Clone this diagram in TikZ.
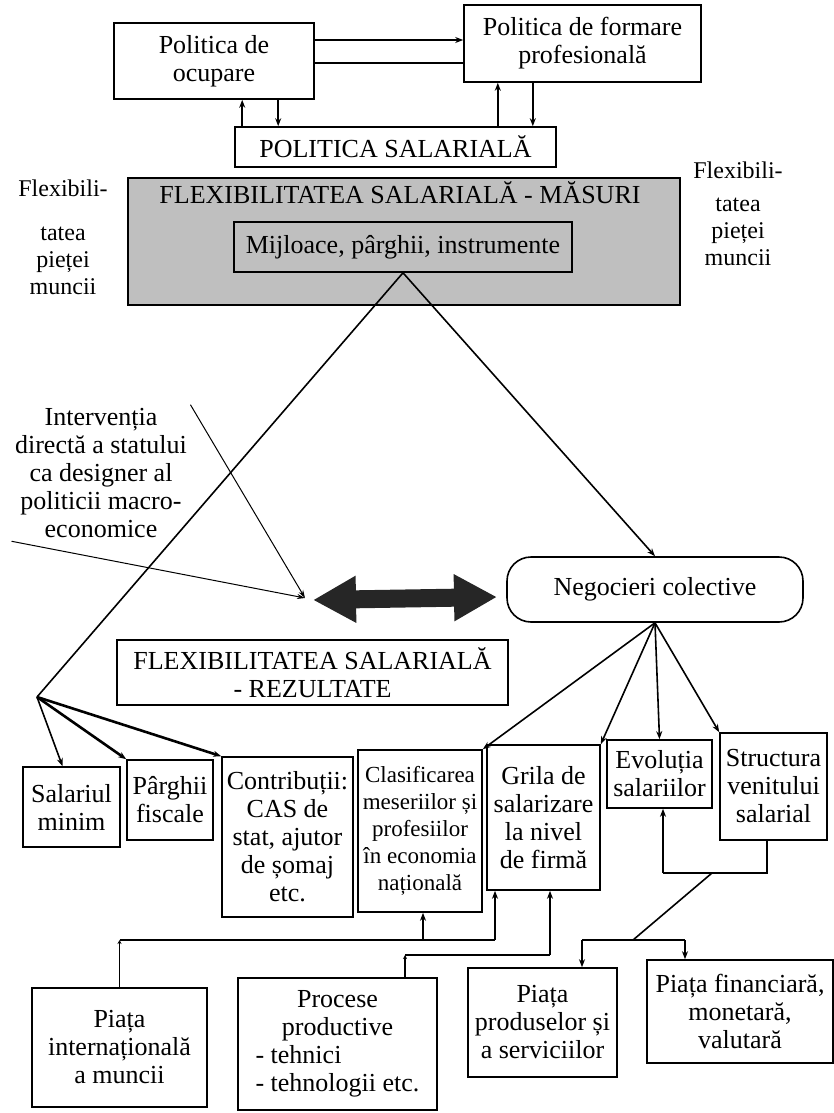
\documentclass[tikz,border=0pt]{standalone}
\usepackage{fontspec}
\setmainfont{Liberation Serif}
\usetikzlibrary{arrows.meta}

\begin{document}
\begin{tikzpicture}[x=1pt,y=-1pt]
    \tikzstyle{every node}=[font=\fontsize{26}{28}\selectfont]
    \tikzstyle{box}=[draw, line width=1.6pt, align=center, inner sep=0pt]
    \tikzstyle{grayfill}=[fill=black!25]
    \tikzstyle{sidelabel}=[align=center, font=\fontsize{24}{27}\selectfont]
    \tikzstyle{conn}=[line width=1.6pt]
    \tikzstyle{arr}=[conn, -{Stealth[length=8pt,width=6pt]}]
    \tikzstyle{heavyarr}=[line width=2.6pt, -{Stealth[length=8pt,width=6pt]}]
    \tikzstyle{cornertip}=[conn, -{Stealth[length=4pt,width=4pt]}]
    \tikzstyle{pointer}=[line width=1pt, -{Stealth[length=8pt,width=5pt]}]
    \tikzstyle{bigarrow}=[line width=18pt, black!85, {Triangle[length=43pt,width=44pt]}-{Triangle[length=43pt,width=44pt]}]

    \useasboundingbox (0,0) rectangle (834,1113);

    \node[box, minimum width=200pt, minimum height=76pt] (ocup) at (214,61) {Politica de\\ocupare};
    \node[box, minimum width=237pt, minimum height=77pt] (form) at (582.5,43.5) {Politica de formare\\profesională};
    \node[box, minimum width=321pt, minimum height=40pt] (psal) at (395.5,147) {POLITICA SALARIALĂ};

    \node[box, grayfill, minimum width=552pt, minimum height=127pt] (masuri) at (404,241.5) {};
    \node (mtitle) at (400,193) {FLEXIBILITATEA SALARIALĂ - MĂSURI};
    \node[box, grayfill, minimum width=338pt, minimum height=50pt] (mij) at (403,247) {Mijloace, pârghii, instrumente};
    \node[sidelabel] (flexl) at (63,237) {Flexibili-\\[17pt]tatea\\pieței\\muncii};
    \node[sidelabel] (flexr) at (738,214) {Flexibili-\\[6pt]tatea\\pieței\\muncii};

    \node[align=center] (interv) at (101,473) {Intervenția\\directă a statului\\ca designer al\\politicii macro-\\economice};
    \node[box, rounded corners=24pt, minimum width=296pt, minimum height=65pt] (negoc) at (655,589.5) {Negocieri colective};
    \node[box, minimum width=391pt, minimum height=65pt] (rez) at (312.5,672.5) {FLEXIBILITATEA SALARIALĂ\\- REZULTATE};

    \node[box, minimum width=97pt, minimum height=80pt] (salmin) at (71.5,807) {Salariul\\minim};
    \node[box, minimum width=86pt, minimum height=80pt] (parg) at (170,800) {Pârghii\\fiscale};
    \node[box, minimum width=131pt, minimum height=160pt] (contr) at (287.5,837) {Contribuții:\\CAS de\\stat, ajutor\\de șomaj\\etc.};
    \node[box, minimum width=124pt, minimum height=162pt, font=\fontsize{23}{27}\selectfont] (clas) at (420,831) {Clasificarea\\meseriilor și\\profesiilor\\în economia\\națională};
    \node[box, minimum width=113pt, minimum height=145pt] (grila) at (543.5,817.5) {Grila de\\salarizare\\la nivel\\de firmă};
    \node[box, minimum width=105pt, minimum height=68pt] (evol) at (659.5,774) {Evoluția\\salariilor};
    \node[box, minimum width=107pt, minimum height=107pt] (struct) at (773.5,786.5) {Structura\\venitului\\salarial};

    \node[box, minimum width=175pt, minimum height=119pt] (pint) at (119.5,1047.5) {Piața\\internațională\\a muncii};
    \node[box, minimum width=199pt, minimum height=132pt] (proc) at (337.5,1044) {\begin{tabular}{@{}l@{}}\multicolumn{1}{@{}c@{}}{Procese}\\\multicolumn{1}{@{}c@{}}{productive}\\- tehnici\\- tehnologii etc.\end{tabular}};
    \node[box, minimum width=149pt, minimum height=109pt] (pprod) at (542.5,1022.5) {Piața\\produselor și\\a serviciilor};
    \node[box, minimum width=186pt, minimum height=103pt] (pfin) at (740,1011.5) {Piața financiară,\\monetară,\\valutară};

    \coordinate (t1) at ([yshift=21pt]ocup.east);
    \coordinate (t2) at ([yshift=-2pt]ocup.east);
    \draw[arr, line width=2.2pt] (t1) -- (t1 -| form.west);
    \draw[conn, line width=2.2pt] (t2) -- (t2 -| form.west);

    \coordinate (v1) at ([xshift=8pt]psal.north west);
    \coordinate (v2) at ([xshift=44pt]psal.north west);
    \coordinate (v3) at ([xshift=-59pt]psal.north east);
    \coordinate (v4) at ([xshift=-24pt]psal.north east);
    \draw[arr] (v1) -- (v1 |- ocup.south);
    \draw[arr] (v2 |- ocup.south) -- (v2);
    \draw[arr] (v3) -- (v3 |- form.south);
    \draw[arr] (v4 |- form.south) -- (v4);

    \coordinate (hub) at (37,697);
    \draw[conn] (mij.south) -- (hub);
    \draw[arr] (mij.south) -- (negoc.north);
    \path (hub) edge[arr] ([xshift=-9pt]salmin.north) edge[heavyarr] (parg.north west) edge[heavyarr] (contr.north west);
    \path (negoc.south) edge[arr] (clas.north east) edge[arr] (grila.north east) edge[arr] (evol.north) edge[arr] (struct.north west);

    \coordinate (tgt) at (305,598);
    \draw[pointer] (interv.north east) -- (tgt);
    \draw[pointer] (interv.south west) -- (tgt);
    \coordinate (dl) at (313,600);
    \coordinate (dr) at (497,597);
    \draw[bigarrow] (dl) -- (dr);

    \coordinate (c1) at (123,940);
    \coordinate (c2) at (495,940);
    \coordinate (c3) at (423,940);
    \draw[cornertip] (pint.north) -- (pint.north |- c1);
    \draw[conn] (pint.north |- c1) -- (c2);
    \draw[arr] (c2) -- (c2 |- grila.south);
    \draw[arr] (c3) -- (c3 |- clas.south);

    \coordinate (c4) at (405,955);
    \coordinate (c5) at (550,955);
    \draw[cornertip] (c4 |- proc.north) -- (c4);
    \draw[conn] (c4) -- (c5);
    \draw[arr] (c5) -- (c5 |- grila.south);

    \coordinate (c6) at (767,873);
    \coordinate (c7) at (663,873);
    \draw[conn] (c6 |- struct.south) -- (c6) -- (c7);
    \draw[arr] (c7) -- (c7 |- evol.south);

    \coordinate (c8) at (712,873);
    \coordinate (c9) at (633,940);
    \coordinate (c10) at (582,940);
    \coordinate (c11) at (685,940);
    \draw[conn] (c8) -- (c9);
    \draw[conn] (c10) -- (c11);
    \draw[arr] (c10) -- (c10 |- pprod.north);
    \draw[arr] (c11) -- (c11 |- pfin.north);
\end{tikzpicture}
\end{document}
